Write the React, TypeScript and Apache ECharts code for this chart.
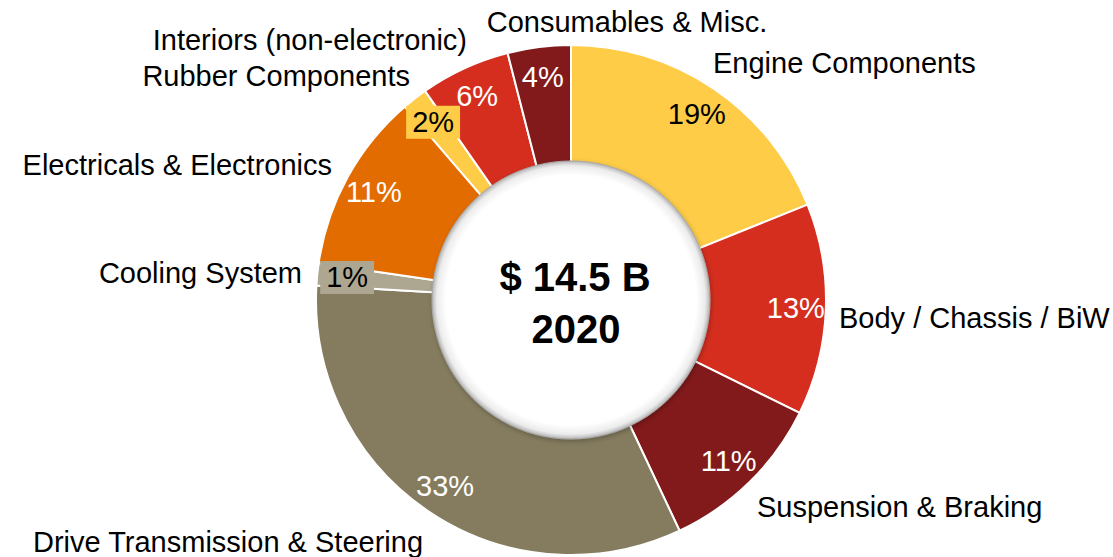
import React, { useEffect, useRef } from "react";
import * as echarts from "echarts";

const CATEGORIES = [
  "Engine Components",
  "Body / Chassis / BiW",
  "Suspension & Braking",
  "Drive Transmission & Steering",
  "Cooling System",
  "Electricals & Electronics",
  "Rubber Components",
  "Interiors (non-electronic)",
  "Consumables & Misc.",
];
const SHARES = [18.9, 13.4, 10.7, 32.9, 1.4, 11.4, 1.6, 5.7, 4.0];
const TOTAL_LABEL = "$ 14.5 B";
const YEAR_LABEL = "2020";

const COLORS = ["#FECC47", "#D52E1F", "#821A1B", "#857C5F", "#ADA691", "#E36C00", "#FECC47", "#D52E1F", "#821A1B"];
const DARK_TEXT = [true, false, false, false, true, false, true, false, false];
const BOXED = [false, false, false, false, true, false, true, false, false];

// category label anchors: [x, y, align]
const NAME_POS: [number, number, string][] = [
  [713, 63, "left"],
  [839, 318, "left"],
  [757, 507, "left"],
  [228, 542, "center"],
  [302, 273, "right"],
  [332, 165, "right"],
  [410, 76, "right"],
  [467, 40, "right"],
  [627, 22, "center"],
];

const FONT = "'Liberation Sans', Arial, sans-serif";
const CX = 571;
const CY = 300;

export default function App() {
  const ref = useRef<HTMLDivElement>(null);
  useEffect(() => {
    document.body.style.margin = "0";
    const chart = echarts.init(ref.current!, null, { renderer: "svg" });
    const baseData = CATEGORIES.map((n, i) => ({ name: n, value: SHARES[i] }));
    chart.setOption({
      animation: false,
      backgroundColor: "#fff",
      series: [
        {
          type: "pie",
          center: [CX, CY],
          radius: [134, 255],
          startAngle: 90,
          clockwise: true,
          silent: true,
          label: { show: false },
          labelLine: { show: false },
          itemStyle: { borderColor: "#fff", borderWidth: 2 },
          data: baseData.map((d, i) => ({ ...d, itemStyle: { color: COLORS[i] } })),
          z: 2,
        },
        {
          type: "pie",
          center: [CX, CY],
          radius: [189, 255],
          startAngle: 90,
          silent: true,
          avoidLabelOverlap: false,
          minShowLabelAngle: 0,
          itemStyle: { color: "rgba(0,0,0,0)", borderWidth: 0 },
          labelLine: { show: false },
          label: {
            show: true,
            position: "inside",
            fontFamily: FONT,
            fontSize: 29,
            formatter: (p: any) => Math.round(p.percent) + "%",
          },
          labelLayout: { hideOverlap: false },
          data: baseData.map((d, i) => ({
            ...d,
            label: {
              color: DARK_TEXT[i] ? "#000" : "#fff",
              backgroundColor: BOXED[i] ? COLORS[i] : "transparent",
              padding: BOXED[i] ? [2, 6] : 0,
            },
          })),
          z: 3,
        },
        {
          type: "pie",
          center: [CX, CY],
          radius: [134, 255],
          startAngle: 90,
          silent: true,
          avoidLabelOverlap: false,
          itemStyle: { color: "rgba(0,0,0,0)", borderWidth: 0 },
          labelLine: { show: false },
          label: {
            show: true,
            position: "outside",
            fontFamily: FONT,
            fontSize: 29,
            color: "#000",
            formatter: "{b}",
          },
          labelLayout: (p: any) => {
            const pos = NAME_POS[p.dataIndex];
            return { x: pos[0], y: pos[1], align: pos[2], verticalAlign: "middle" };
          },
          data: baseData,
          z: 3,
        },
      ],
      graphic: [
        {
          type: "circle",
          z: 50,
          shape: { cx: CX, cy: CY, r: 139 },
          style: {
            fill: new echarts.graphic.RadialGradient(0.5, 0.5, 0.5, [
              { offset: 0, color: "#ffffff" },
              { offset: 0.9, color: "#ffffff" },
              { offset: 0.965, color: "#ececec" },
              { offset: 1, color: "#b5b5b5" },
            ]),
            stroke: "#a8a8a8",
            lineWidth: 1,
            shadowBlur: 5,
            shadowColor: "rgba(0,0,0,0.25)",
            shadowOffsetX: 1,
            shadowOffsetY: 2,
          },
        },
        {
          type: "text",
          z: 51,
          x: CX + 4,
          y: 277,
          style: {
            text: TOTAL_LABEL,
            fontFamily: FONT,
            fontWeight: "bold",
            fontSize: 40,
            fill: "#000",
            align: "center",
            verticalAlign: "middle",
          },
        },
        {
          type: "text",
          z: 51,
          x: CX + 5,
          y: 329,
          style: {
            text: YEAR_LABEL,
            fontFamily: FONT,
            fontWeight: "bold",
            fontSize: 40,
            fill: "#000",
            align: "center",
            verticalAlign: "middle",
          },
        },
      ],
    });
    return () => chart.dispose();
  }, []);
  return <div ref={ref} style={{ width: 1113, height: 557 }} />;
}
